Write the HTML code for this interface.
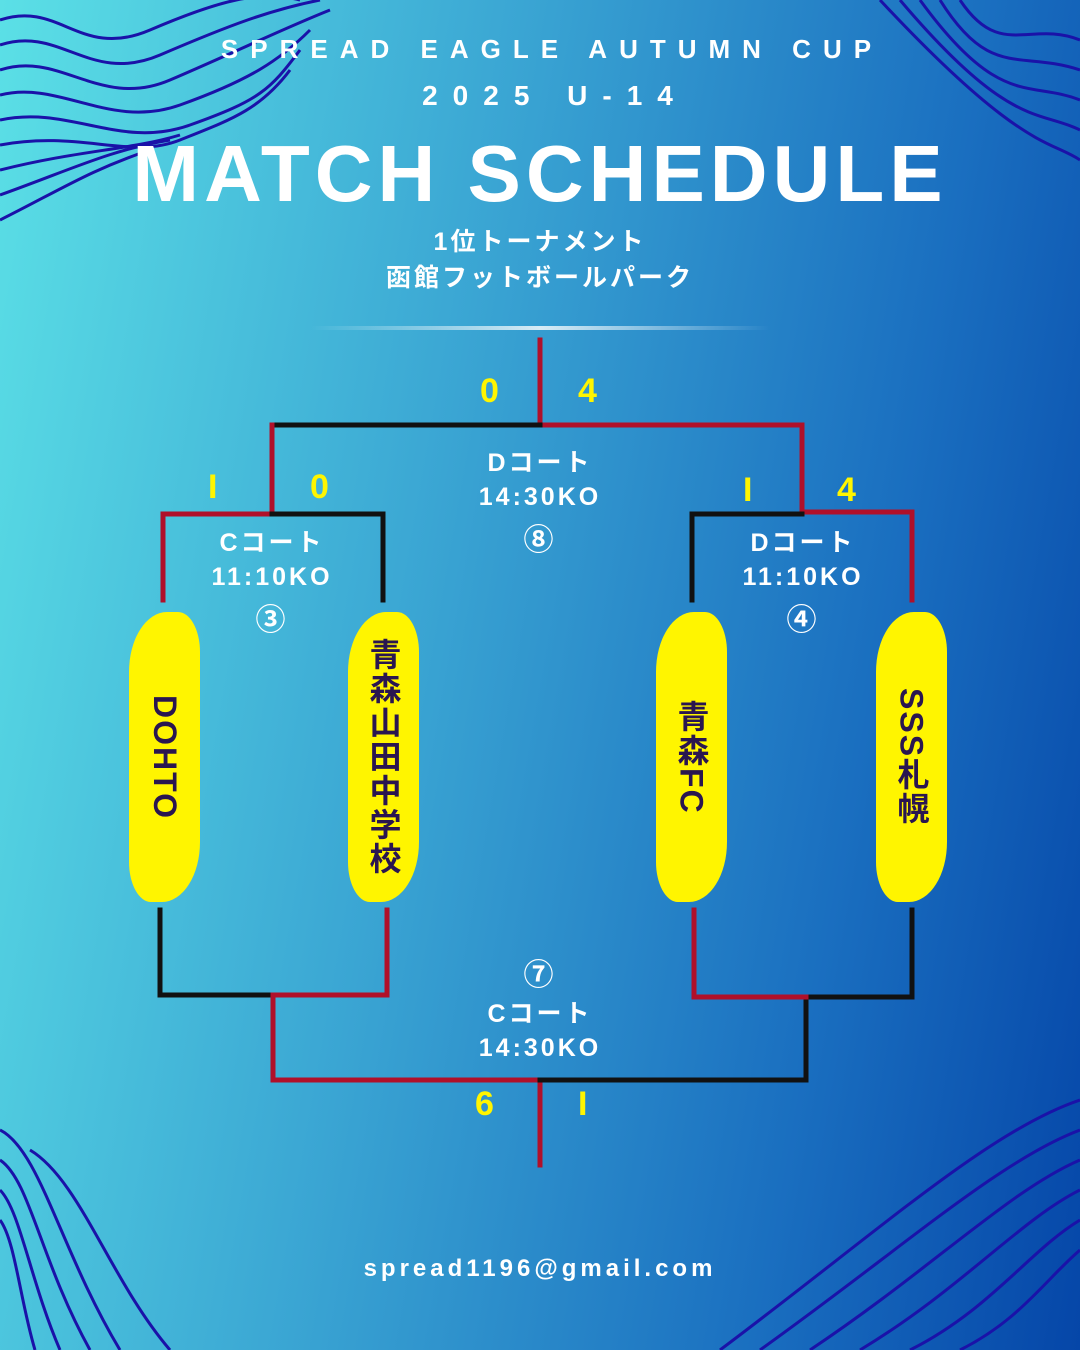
<!DOCTYPE html>
<html><head><meta charset="utf-8"><style>
body{margin:0}
#c{position:relative;width:1080px;height:1350px;overflow:hidden;background:linear-gradient(100deg,#5be0e6 0%,#3aa5d3 40%,#1a6fc0 75%,#0546a8 100%);font-family:"Liberation Sans","Noto Sans CJK JP",sans-serif;color:#fff}
.t{position:absolute;left:0;width:1080px;text-align:center;font-weight:bold;white-space:nowrap}
.pill{position:absolute;width:71px;height:290px;background:#fff500;border-radius:38px 22px 38px 22px/60px 40px 60px 40px;display:flex;align-items:center;justify-content:center;writing-mode:vertical-rl;color:#2a1650;font-weight:bold;font-size:32px;letter-spacing:2px;font-family:"Liberation Sans","Noto Sans CJK JP",sans-serif}
.s{position:absolute;color:#fff500;font-weight:bold;font-size:34px}
.l{position:absolute;font-weight:bold;font-size:25px;letter-spacing:3px;text-align:center;width:200px}
</style></head><body><div id="c">
<svg width="1080" height="1350" style="position:absolute;left:0;top:0" fill="none" stroke="#1a12a8">
<g stroke-width="3">
<path d="M0 20 C60 0 80 60 150 30 S260 -10 300 0"/><path d="M0 45 C60 25 90 85 160 55 S270 10 320 0"/><path d="M0 70 C60 50 100 110 170 80 S280 30 330 10"/><path d="M0 95 C60 80 110 130 180 105 S280 60 310 30"/><path d="M0 120 C70 105 120 150 190 125 S270 90 300 50"/><path d="M0 145 C80 130 130 160 180 140 S260 110 290 70"/><path d="M0 170 C80 150 130 150 180 135"/><path d="M0 195 C70 170 110 150 170 140"/><path d="M0 220 C60 190 90 170 150 150"/>
<path d="M1080 40 C1030 20 1000 60 960 0"/><path d="M1080 70 C1020 50 990 80 940 0"/><path d="M1080 100 C1030 80 1000 110 920 0"/><path d="M1080 130 C1040 110 1010 130 900 0"/><path d="M1080 160 C1050 140 1020 150 880 0"/>
<path d="M0 1130 C40 1150 60 1250 120 1350"/><path d="M0 1160 C30 1180 40 1260 90 1350"/><path d="M0 1190 C20 1210 30 1280 60 1350"/><path d="M0 1220 C15 1240 20 1300 35 1350"/><path d="M30 1150 C80 1180 110 1280 170 1350"/>
<path d="M1080 1130 C1000 1160 900 1250 760 1350"/><path d="M1080 1160 C1010 1190 930 1270 810 1350"/><path d="M1080 1190 C1020 1220 960 1290 860 1350"/><path d="M1080 1220 C1030 1250 990 1310 910 1350"/><path d="M1080 1250 C1045 1280 1020 1320 960 1350"/><path d="M1080 1100 C990 1130 880 1230 720 1350"/>
</g>
<defs><linearGradient id="g"><stop offset="0" stop-color="#fff" stop-opacity="0"/><stop offset=".5" stop-color="#fff" stop-opacity=".8"/><stop offset="1" stop-color="#fff" stop-opacity="0"/></linearGradient></defs>
<rect x="310" y="326" width="460" height="4" fill="url(#g)" stroke="none"/>
<g stroke-width="5" stroke-linecap="square">
<path stroke="#b0102a" d="M540 340V425H802V512H912V600"/>
<path stroke="#111" d="M540 425H272"/>
<path stroke="#b0102a" d="M272 425V514H163V600"/>
<path stroke="#111" d="M272 514H383V600"/>
<path stroke="#111" d="M802 514H692V600"/>
<path stroke="#111" d="M160 910V995H272"/>
<path stroke="#b0102a" d="M387 910V995H273V1080H540V1165"/>
<path stroke="#111" d="M540 1080H806V997H912V910"/>
<path stroke="#b0102a" d="M694 910V997H806"/>
</g>
</svg>
<div class="t" style="top:34px;font-size:26px;letter-spacing:12px;padding-left:12px">SPREAD EAGLE AUTUMN CUP</div>
<div class="t" style="top:80px;font-size:28px;letter-spacing:15px;padding-left:15px">2025 U-14</div>
<div class="t" style="top:128px;font-size:80px;letter-spacing:5px">MATCH SCHEDULE</div>
<div class="t" style="top:222px;font-size:25px;letter-spacing:3px">1位トーナメント</div>
<div class="t" style="top:258px;font-size:25px;letter-spacing:3px">函館フットボールパーク</div>
<div class="s" style="left:480px;top:372px">0</div><div class="s" style="left:578px;top:372px">4</div>
<div class="s" style="left:208px;top:468px">I</div><div class="s" style="left:310px;top:468px">0</div>
<div class="s" style="left:743px;top:471px">I</div><div class="s" style="left:837px;top:471px">4</div>
<div class="s" style="left:475px;top:1085px">6</div><div class="s" style="left:578px;top:1085px">I</div>
<div class="l" style="left:440px;top:443px">Dコート<br><span style="line-height:36px">14:30KO</span><br><span style="font-size:30px">⑧</span></div>
<div class="l" style="left:172px;top:523px">Cコート<br><span style="line-height:36px">11:10KO</span><br><span style="font-size:30px">③</span></div>
<div class="l" style="left:703px;top:523px">Dコート<br><span style="line-height:36px">11:10KO</span><br><span style="font-size:30px">④</span></div>
<div class="l" style="left:440px;top:950px"><span style="font-size:30px">⑦</span><br>Cコート<br><span style="line-height:36px">14:30KO</span></div>
<div class="pill" style="left:129px;top:612px">DOHTO</div>
<div class="pill" style="left:348px;top:612px">青森山田中学校</div>
<div class="pill" style="left:656px;top:612px">青森FC</div>
<div class="pill" style="left:876px;top:612px">SSS札幌</div>
<div class="t" style="top:1255px;font-size:24px;letter-spacing:4px">spread1196@gmail.com</div>
</div></body></html>
